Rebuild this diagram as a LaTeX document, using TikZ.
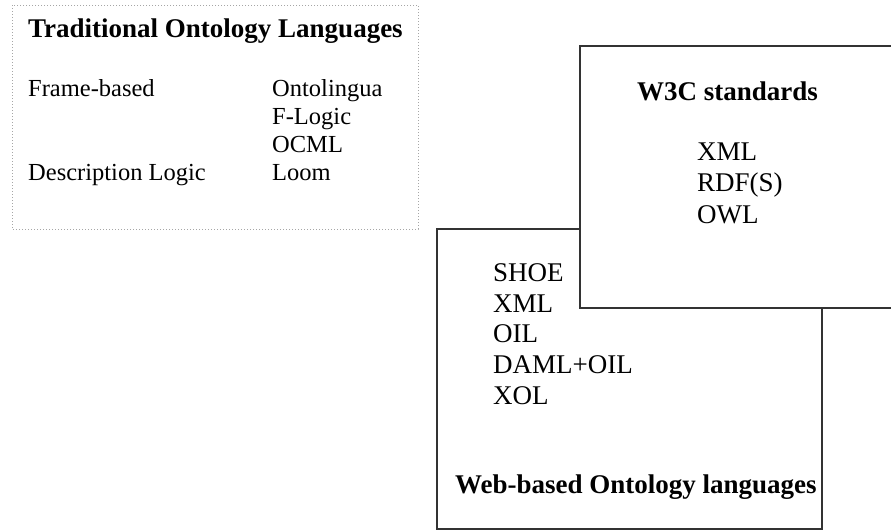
\documentclass[tikz,border=0pt]{standalone}
\usepackage{fontspec}
\setmainfont{Liberation Serif}
\begin{document}
\begin{tikzpicture}[x=1pt,y=-1pt,
  boxline/.style={draw=black!80,line width=1.5pt},
  dotbox/.style={draw=black!35,line width=1pt,dotted},
  small/.style={font=\fontsize{24.5}{28}\selectfont,anchor=base west,inner sep=0pt},
  big/.style={font=\fontsize{27}{31}\selectfont,anchor=base west,inner sep=0pt},
  bigtitle/.style={font=\fontsize{27}{31}\selectfont\bfseries,anchor=base west,inner sep=0pt}]
\useasboundingbox (0,0) rectangle (891,531);
\clip (0,0) rectangle (891,531);
% box 1
\draw[dotbox] (12,5) rectangle (418,229);
\node[bigtitle] (t1) at (28,37) {Traditional Ontology Languages};
\node[small] (fb) at (28,96) {Frame-based};
\node[small] (dl) at (28,180) {Description Logic};
\node[small] (ol) at (272,96) {Ontolingua};
\node[small] (fl) at (272,124) {F-Logic};
\node[small] (oc) at (272,152) {OCML};
\node[small] (lo) at (272,180) {Loom};
% box 2
\draw[boxline,fill=white] (437,229) rectangle (822,529);
\node[big] (shoe) at (493,281) {SHOE};
\node[big] (xml2) at (493,312) {XML};
\node[big] (oil) at (493,342) {OIL};
\node[big] (daml) at (493,373) {DAML+OIL};
\node[big] (xol) at (493,404) {XOL};
\node[bigtitle] (t2) at (455,493) {Web-based Ontology languages};
% box 3
\draw[boxline,fill=white] (580,46) rectangle (900,308);
\node[bigtitle] (t3) at (637,100) {W3C standards};
\node[big] (xml3) at (697,160) {XML};
\node[big] (rdf) at (697,191) {RDF(S)};
\node[big] (owl) at (697,223) {OWL};
\end{tikzpicture}
\end{document}
